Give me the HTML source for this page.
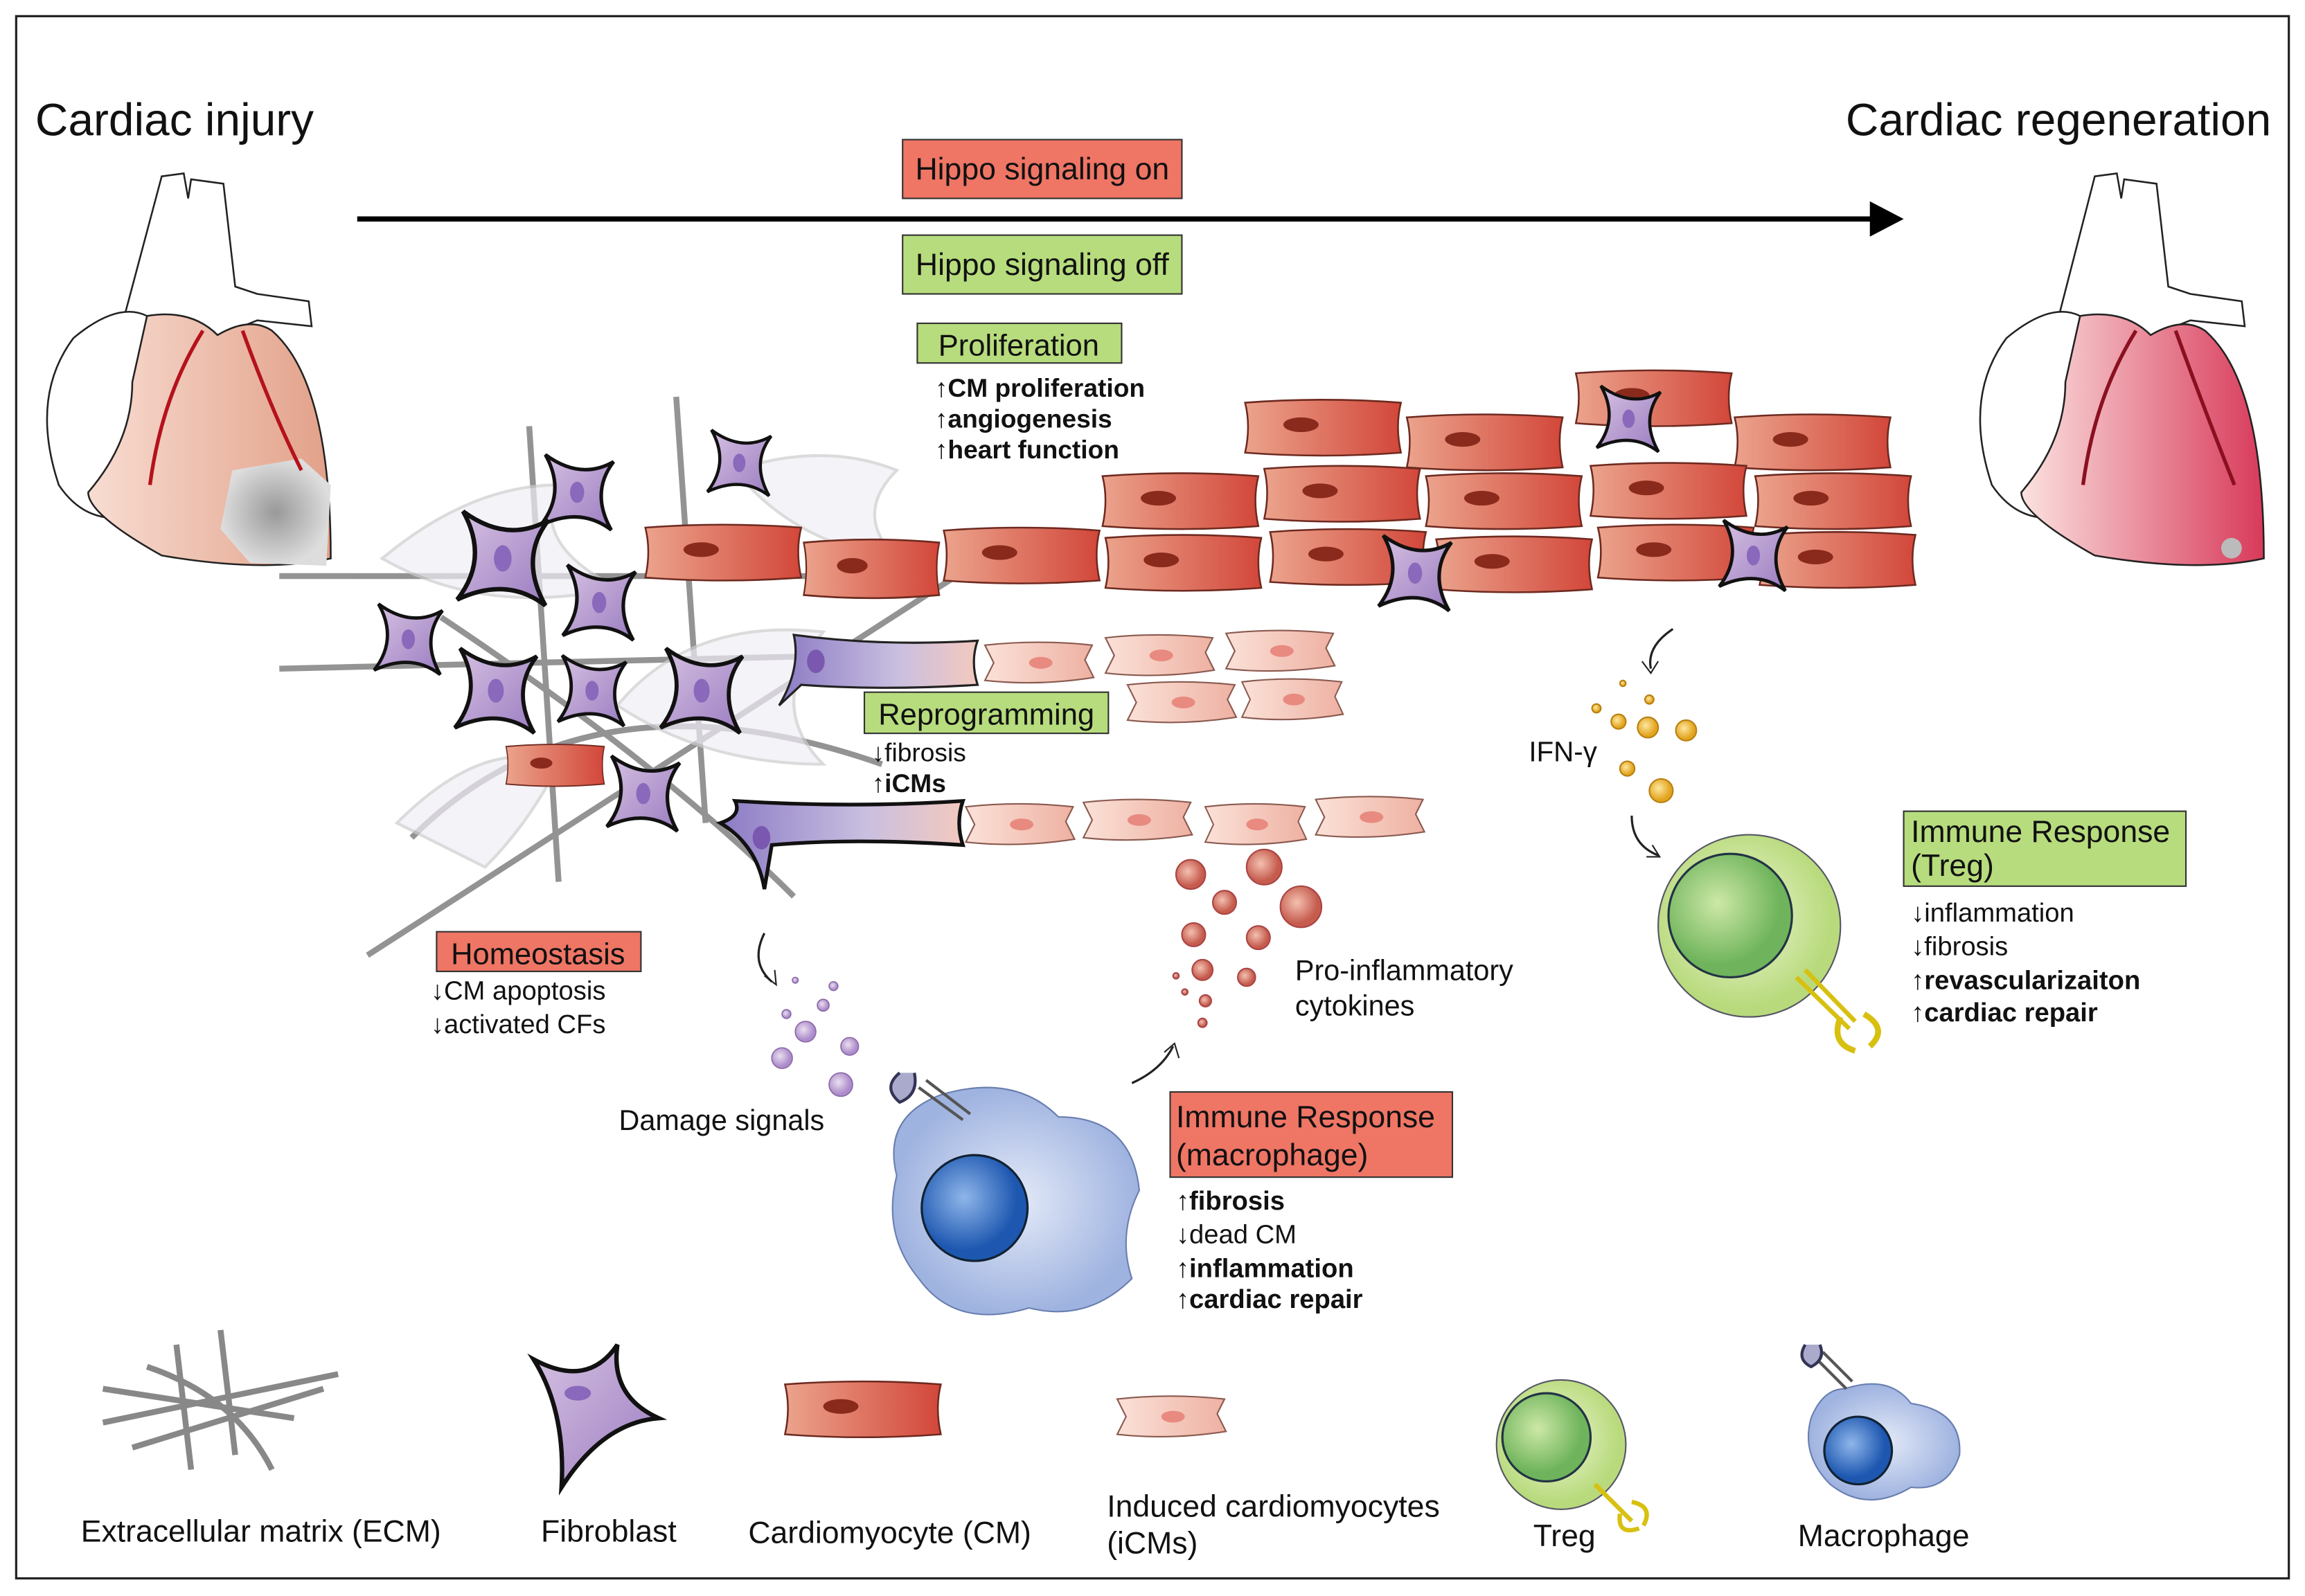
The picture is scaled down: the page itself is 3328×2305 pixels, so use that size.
<!DOCTYPE html>
<html><head><meta charset="utf-8"><style>
html,body{margin:0;padding:0;background:#fff}
svg{display:block}
text{font-family:"Liberation Sans",sans-serif;fill:#111}
</style></head><body>
<svg width="3328" height="2305" viewBox="0 0 1568 1086" preserveAspectRatio="none" xmlns="http://www.w3.org/2000/svg">
<defs>
<linearGradient id="cmg" x1="0" x2="1"><stop offset="0" stop-color="#eba38c"/><stop offset="1" stop-color="#d2473a"/></linearGradient>
<linearGradient id="icg" x1="0" x2="1"><stop offset="0" stop-color="#fbe1d8"/><stop offset="1" stop-color="#eeb1a2"/></linearGradient>
<linearGradient id="fbg" x1="0" x2="1" y1="0" y2="1"><stop offset="0" stop-color="#d7c2e3"/><stop offset="1" stop-color="#9a7cc0"/></linearGradient>
<linearGradient id="trn" x1="0" x2="1"><stop offset="0" stop-color="#8b7ac4"/><stop offset="0.6" stop-color="#c9bfe0"/><stop offset="1" stop-color="#f3c9bf"/></linearGradient>
<linearGradient id="hl" x1="0" x2="1"><stop offset="0" stop-color="#f8ddd2"/><stop offset="1" stop-color="#e2a088"/></linearGradient>
<linearGradient id="hr" x1="0" x2="1"><stop offset="0" stop-color="#fbe2e0"/><stop offset="1" stop-color="#d83a5a"/></linearGradient>
<radialGradient id="scar"><stop offset="0" stop-color="#999"/><stop offset="1" stop-color="#ddd"/></radialGradient>
<radialGradient id="mac"><stop offset="0" stop-color="#e4eaf8"/><stop offset="1" stop-color="#9fb3e0"/></radialGradient>
<radialGradient id="nuc" cx="0.4" cy="0.4"><stop offset="0" stop-color="#8fb6ea"/><stop offset="1" stop-color="#1d57b0"/></radialGradient>
<radialGradient id="tr" cx="0.45" cy="0.45"><stop offset="0" stop-color="#eef6d6"/><stop offset="1" stop-color="#b8da7c"/></radialGradient>
<radialGradient id="trn2" cx="0.4" cy="0.4"><stop offset="0" stop-color="#cde8a6"/><stop offset="1" stop-color="#6fb45c"/></radialGradient>
<radialGradient id="rb" cx="0.4" cy="0.4"><stop offset="0" stop-color="#f4c0b0"/><stop offset="1" stop-color="#c55c4e"/></radialGradient>
<radialGradient id="pb" cx="0.4" cy="0.4"><stop offset="0" stop-color="#eadff0"/><stop offset="1" stop-color="#ad8ccb"/></radialGradient>
<radialGradient id="yb" cx="0.4" cy="0.4"><stop offset="0" stop-color="#fde7a0"/><stop offset="1" stop-color="#e3a41e"/></radialGradient>
<g id="cm"><path d="M2,4 Q55,0 108,4 Q104,20 108,38 Q55,42 2,38 Q6,20 2,4Z" fill="url(#cmg)" stroke="#6e2a20" stroke-width="1.2"/><ellipse cx="40" cy="19" rx="12" ry="5" fill="#8a2a1c"/></g>
<g id="ic"><path d="M2,4 Q38,0 75,4 L70,14 L76,26 Q38,32 2,28 L8,16Z" fill="url(#icg)" stroke="#8a5a50" stroke-width="1"/><ellipse cx="40" cy="16" rx="8" ry="4" fill="#e88a80"/></g>
<g id="fb"><path d="M-30,-32 Q0,-10 28,-26 Q8,0 26,32 Q0,12 -34,28 Q-12,0 -30,-32Z" fill="url(#fbg)" stroke="#111" stroke-width="3"/><ellipse cx="-3" cy="0" rx="6" ry="9" fill="#8a68bb"/></g>
</defs>
<rect x="0" y="0" width="1568" height="1086" fill="#fff"/>
<rect x="11" y="11" width="1546" height="1063" fill="none" stroke="#222" stroke-width="1.5"/>

<text x="24" y="92" font-size="31">Cardiac injury</text>
<text x="1545" y="92" font-size="31" text-anchor="end">Cardiac regeneration</text>

<line x1="243" y1="149" x2="1275" y2="149" stroke="#000" stroke-width="3.5"/>
<polygon points="1272,137 1295,149 1272,161" fill="#000"/>
<rect x="614" y="95" width="190" height="40" fill="#ef7565" stroke="#333"/>
<text x="709" y="122" font-size="21" text-anchor="middle">Hippo signaling on</text>
<rect x="614" y="160" width="190" height="40" fill="#b7dc7d" stroke="#333"/>
<text x="709" y="187" font-size="21" text-anchor="middle">Hippo signaling off</text>

<!-- left heart -->
<g stroke="#222" stroke-width="1.2">
<path d="M110,120 L125,118 L128,135 L130,122 L152,125 L160,195 L175,200 L210,205 L212,222 L175,218 L150,228 L110,225 L82,225 Z" fill="#fff"/>
<path d="M50,230 Q80,205 100,215 L95,350 Q60,360 40,330 Q20,270 50,230Z" fill="#fff"/>
<path d="M100,215 Q130,210 148,228 Q170,215 185,225 Q225,260 225,380 Q180,390 110,378 Q60,350 60,335 Q90,300 90,260Z" fill="url(#hl)"/>
</g>
<path d="M158,320 L205,312 L225,330 L222,385 L170,383 L150,360Z" fill="url(#scar)"/>
<path d="M138,225 Q110,270 102,330 M165,225 Q185,280 205,320" stroke="#b5121b" stroke-width="2.5" fill="none"/>

<!-- right heart -->
<g stroke="#222" stroke-width="1.2">
<path d="M1425,120 L1440,118 L1443,135 L1445,122 L1467,125 L1475,195 L1490,200 L1525,205 L1527,222 L1490,218 L1465,228 L1425,225 L1398,225 Z" fill="#fff"/>
<path d="M1365,230 Q1395,205 1415,215 L1410,350 Q1375,360 1355,330 Q1335,270 1365,230Z" fill="#fff"/>
<path d="M1415,215 Q1445,210 1463,228 Q1485,215 1500,225 Q1540,260 1540,380 Q1495,390 1425,378 Q1375,350 1375,335 Q1405,300 1405,260Z" fill="url(#hr)"/>
</g>
<circle cx="1518" cy="373" r="7" fill="#bbb"/>
<path d="M1453,225 Q1425,270 1417,330 M1480,225 Q1500,280 1520,330" stroke="#8a1020" stroke-width="2.5" fill="none"/>

<!-- ECM lines -->
<g stroke="#888" stroke-width="4" fill="none" opacity="0.9">
<line x1="190" y1="392" x2="620" y2="392"/>
<line x1="190" y1="455" x2="620" y2="445"/>
<line x1="250" y1="650" x2="700" y2="360"/>
<line x1="360" y1="290" x2="380" y2="600"/>
<line x1="460" y1="270" x2="480" y2="560"/>
<path d="M280,570 Q400,450 600,520"/>
<path d="M300,420 Q450,520 540,610"/>
</g>
<g stroke="#ccc" stroke-width="2" fill="#f0eef6" opacity="0.7">
<path d="M260,380 Q320,330 380,330 Q360,370 420,400 Q330,420 260,380Z"/>
<path d="M420,480 Q470,420 560,430 Q520,480 560,520 Q480,520 420,480Z"/>
<path d="M500,320 Q560,300 610,320 Q580,350 610,380 Q540,370 500,320Z"/>
<path d="M270,560 Q330,500 380,520 Q360,560 330,590Z"/>
</g>

<!-- fibroblasts -->
<use href="#fb" transform="translate(395,335) scale(0.8)"/>
<use href="#fb" transform="translate(505,315) scale(0.7)"/>
<use href="#fb" transform="translate(345,380) scale(1)"/>
<use href="#fb" transform="translate(410,410) scale(0.8)"/>
<use href="#fb" transform="translate(280,435) scale(0.75)"/>
<use href="#fb" transform="translate(340,470) scale(0.9)"/>
<use href="#fb" transform="translate(405,470) scale(0.75)"/>
<use href="#fb" transform="translate(480,470) scale(0.9)"/>
<use href="#fb" transform="translate(440,540) scale(0.8)"/>

<!-- CMs -->
<use href="#cm" transform="translate(845,270)"/>
<use href="#cm" transform="translate(955,280)"/>
<use href="#cm" transform="translate(1070,250)"/>
<use href="#cm" transform="translate(1178,280)"/>
<use href="#cm" transform="translate(748,320)"/>
<use href="#cm" transform="translate(858,315)"/>
<use href="#cm" transform="translate(968,320)"/>
<use href="#cm" transform="translate(1080,313)"/>
<use href="#cm" transform="translate(1192,320)"/>
<use href="#cm" transform="translate(437,355)"/>
<use href="#cm" transform="translate(545,365) scale(0.87,1.05)"/>
<use href="#cm" transform="translate(640,357)"/>
<use href="#cm" transform="translate(750,362)"/>
<use href="#cm" transform="translate(862,358)"/>
<use href="#cm" transform="translate(975,363)"/>
<use href="#cm" transform="translate(1085,355)"/>
<use href="#cm" transform="translate(1195,360)"/>
<use href="#cm" transform="translate(343,505) scale(0.63,0.75)"/>
<use href="#fb" transform="translate(1110,285) scale(0.7)"/>
<use href="#fb" transform="translate(965,390) scale(0.8)"/>
<use href="#fb" transform="translate(1195,378) scale(0.75)"/>

<!-- transitional -->
<path d="M540,432 Q600,440 665,436 Q660,450 665,466 Q600,470 545,466 L530,480 Q545,455 540,432Z" fill="url(#trn)" stroke="#222" stroke-width="1.5"/>
<path d="M500,545 Q580,550 655,545 Q650,560 655,575 Q580,570 525,575 L520,605 Q515,575 490,560 Q505,555 500,545Z" fill="url(#trn)" stroke="#111" stroke-width="2.5"/>
<ellipse cx="555" cy="450" rx="6" ry="8" fill="#7a58b0"/>
<ellipse cx="518" cy="570" rx="6" ry="8" fill="#7a58b0"/>

<!-- iCMs -->
<use href="#ic" transform="translate(668,435)"/>
<use href="#ic" transform="translate(750,430)"/>
<use href="#ic" transform="translate(832,427)"/>
<use href="#ic" transform="translate(765,462)"/>
<use href="#ic" transform="translate(843,460) scale(0.93,1)"/>
<use href="#ic" transform="translate(655,545)"/>
<use href="#ic" transform="translate(735,542)"/>
<use href="#ic" transform="translate(818,545) scale(0.93,1)"/>
<use href="#ic" transform="translate(893,540)"/>

<!-- labels -->
<rect x="624" y="220" width="139" height="27" fill="#b7dc7d" stroke="#333"/>
<text x="693" y="242" font-size="20.5" text-anchor="middle">Proliferation</text>
<g font-size="17.5" font-weight="bold"><text x="636" y="270">↑CM proliferation</text><text x="636" y="291">↑angiogenesis</text><text x="636" y="312">↑heart function</text></g>

<rect x="588" y="471" width="166" height="28" fill="#b7dc7d" stroke="#333"/>
<text x="671" y="493" font-size="20.5" text-anchor="middle">Reprogramming</text>
<text x="593" y="518" font-size="17.5">↓fibrosis</text>
<text x="593" y="539" font-size="17.5" font-weight="bold">↑iCMs</text>

<rect x="297" y="634" width="139" height="27" fill="#ef7565" stroke="#333"/>
<text x="366" y="656" font-size="20.5" text-anchor="middle">Homeostasis</text>
<text x="293" y="680" font-size="18">↓CM apoptosis</text>
<text x="293" y="703" font-size="18">↓activated CFs</text>

<!-- damage signals -->
<path d="M520,635 Q510,655 525,668" stroke="#222" stroke-width="1.5" fill="none"/><path d="M520,664 L528,670 L527,660" stroke="#222" fill="none"/>
<g fill="url(#pb)" stroke="#8b6aa8" stroke-width="0.8">
<circle cx="541" cy="667" r="2"/><circle cx="567" cy="671" r="3"/><circle cx="560" cy="684" r="4"/><circle cx="535" cy="690" r="3"/><circle cx="548" cy="702" r="7"/><circle cx="578" cy="712" r="6"/><circle cx="532" cy="720" r="7"/><circle cx="572" cy="738" r="8"/></g>
<text x="421" y="769" font-size="19.5">Damage signals</text>

<!-- macrophage -->
<path d="M640,745 Q690,730 720,760 Q770,760 775,810 Q760,840 770,870 Q740,900 700,890 Q650,905 625,870 Q600,840 610,800 Q600,760 640,745Z" fill="url(#mac)" stroke="#6a7fb0" stroke-width="1"/>
<circle cx="663" cy="822" r="36" fill="url(#nuc)" stroke="#123" stroke-width="1.5"/>
<path d="M625,740 L655,762 M630,735 L660,758" stroke="#555" stroke-width="2"/>
<path d="M612,730 Q600,740 612,750 Q625,745 622,730" fill="#aac" stroke="#335" stroke-width="2"/>
<path d="M770,737 Q790,728 798,712" stroke="#222" stroke-width="1.5" fill="none"/><path d="M792,716 L799,710 L802,720" stroke="#222" fill="none"/>

<!-- pro-inflammatory -->
<g fill="url(#rb)" stroke="#a44">
<circle cx="810" cy="595" r="10"/><circle cx="860" cy="590" r="12"/><circle cx="833" cy="614" r="8"/><circle cx="885" cy="617" r="14"/><circle cx="812" cy="636" r="8"/><circle cx="856" cy="638" r="8"/><circle cx="818" cy="660" r="7"/><circle cx="848" cy="665" r="6"/><circle cx="820" cy="681" r="4"/><circle cx="800" cy="664" r="2"/><circle cx="806" cy="675" r="2"/><circle cx="818" cy="696" r="3"/></g>
<text x="881" y="667" font-size="19.5">Pro-inflammatory</text>
<text x="881" y="691" font-size="19.5">cytokines</text>

<rect x="796" y="743" width="192" height="58" fill="#ef7565" stroke="#333"/>
<text x="800" y="767" font-size="21">Immune Response</text>
<text x="800" y="793" font-size="21">(macrophage)</text>
<g font-size="18"><text x="800" y="823" font-weight="bold">↑fibrosis</text><text x="800" y="846">↓dead CM</text><text x="800" y="869" font-weight="bold">↑inflammation</text><text x="800" y="890" font-weight="bold">↑cardiac repair</text></g>

<!-- IFN -->
<path d="M1138,428 Q1120,440 1123,455" stroke="#222" stroke-width="1.5" fill="none"/><path d="M1117,450 L1123,458 L1128,450" stroke="#222" fill="none"/>
<g fill="url(#yb)" stroke="#b88010"><circle cx="1104" cy="465" r="2"/><circle cx="1122" cy="476" r="3"/><circle cx="1086" cy="482" r="3"/><circle cx="1101" cy="491" r="5"/><circle cx="1121" cy="495" r="7"/><circle cx="1147" cy="497" r="7"/><circle cx="1107" cy="523" r="5"/><circle cx="1130" cy="538" r="8"/></g>
<text x="1040" y="518" font-size="19">IFN-γ</text>
<path d="M1110,555 Q1110,575 1128,582" stroke="#222" stroke-width="1.5" fill="none"/><path d="M1120,583 L1129,583 L1124,575" stroke="#222" fill="none"/>

<!-- Treg -->
<circle cx="1190" cy="630" r="62" fill="url(#tr)" stroke="#556" stroke-width="1"/>
<circle cx="1177" cy="623" r="42" fill="url(#trn2)" stroke="#234" stroke-width="1.5"/>
<path d="M1222,665 L1258,700 M1228,660 L1262,695" stroke="#d8c010" stroke-width="3"/>
<path d="M1252,692 Q1245,710 1262,715 M1268,690 Q1285,700 1272,712" stroke="#d8c010" stroke-width="4" fill="none"/>
<rect x="1295" y="552" width="192" height="51" fill="#b7dc7d" stroke="#333"/>
<text x="1300" y="573" font-size="21">Immune Response</text>
<text x="1300" y="596" font-size="21">(Treg)</text>
<g font-size="18"><text x="1300" y="627">↓inflammation</text><text x="1300" y="650">↓fibrosis</text><text x="1300" y="673" font-weight="bold">↑revascularizaiton</text><text x="1300" y="695" font-weight="bold">↑cardiac repair</text></g>

<!-- legend -->
<g stroke="#888" stroke-width="4" fill="none"><line x1="70" y1="968" x2="230" y2="935"/><line x1="70" y1="945" x2="200" y2="965"/><line x1="90" y1="985" x2="220" y2="945"/><line x1="120" y1="915" x2="130" y2="1000"/><line x1="150" y1="905" x2="160" y2="990"/><path d="M100,930 Q160,950 185,1000"/></g>
<text x="55" y="1049" font-size="21">Extracellular matrix (ECM)</text>
<path d="M363,925 Q400,945 420,915 Q415,950 448,965 Q410,968 382,1012 Q385,960 363,925Z" fill="url(#fbg)" stroke="#111" stroke-width="3"/>
<ellipse cx="393" cy="948" rx="9" ry="5" fill="#8a68bb"/>
<text x="368" y="1049" font-size="21">Fibroblast</text>
<use href="#cm" transform="translate(532,938)"/>
<text x="509" y="1050" font-size="21">Cardiomyocyte (CM)</text>
<use href="#ic" transform="translate(758,948)"/>
<text x="753" y="1032" font-size="21">Induced cardiomyocytes</text>
<text x="753" y="1057" font-size="21">(iCMs)</text>
<circle cx="1062" cy="983" r="44" fill="url(#tr)" stroke="#556"/>
<circle cx="1052" cy="978" r="30" fill="url(#trn2)" stroke="#234" stroke-width="1.5"/>
<path d="M1085,1010 L1110,1035" stroke="#d8c010" stroke-width="3"/><path d="M1102,1030 Q1100,1045 1115,1040 M1110,1022 Q1125,1025 1118,1038" stroke="#d8c010" stroke-width="3" fill="none"/>
<text x="1043" y="1052" font-size="21">Treg</text>
<path d="M1255,945 Q1285,935 1300,955 Q1335,960 1333,990 Q1325,1015 1300,1012 Q1270,1030 1245,1010 Q1225,990 1232,965 Q1240,945 1255,945Z" fill="url(#mac)" stroke="#6a7fb0"/>
<circle cx="1264" cy="987" r="23" fill="url(#nuc)" stroke="#123" stroke-width="1.5"/>
<path d="M1236,925 L1256,945 M1240,920 L1260,940" stroke="#555" stroke-width="2"/>
<path d="M1228,915 Q1222,925 1232,930 Q1242,925 1238,915" fill="#aac" stroke="#335" stroke-width="2"/>
<text x="1223" y="1052" font-size="21">Macrophage</text>
</svg>
</body></html>
